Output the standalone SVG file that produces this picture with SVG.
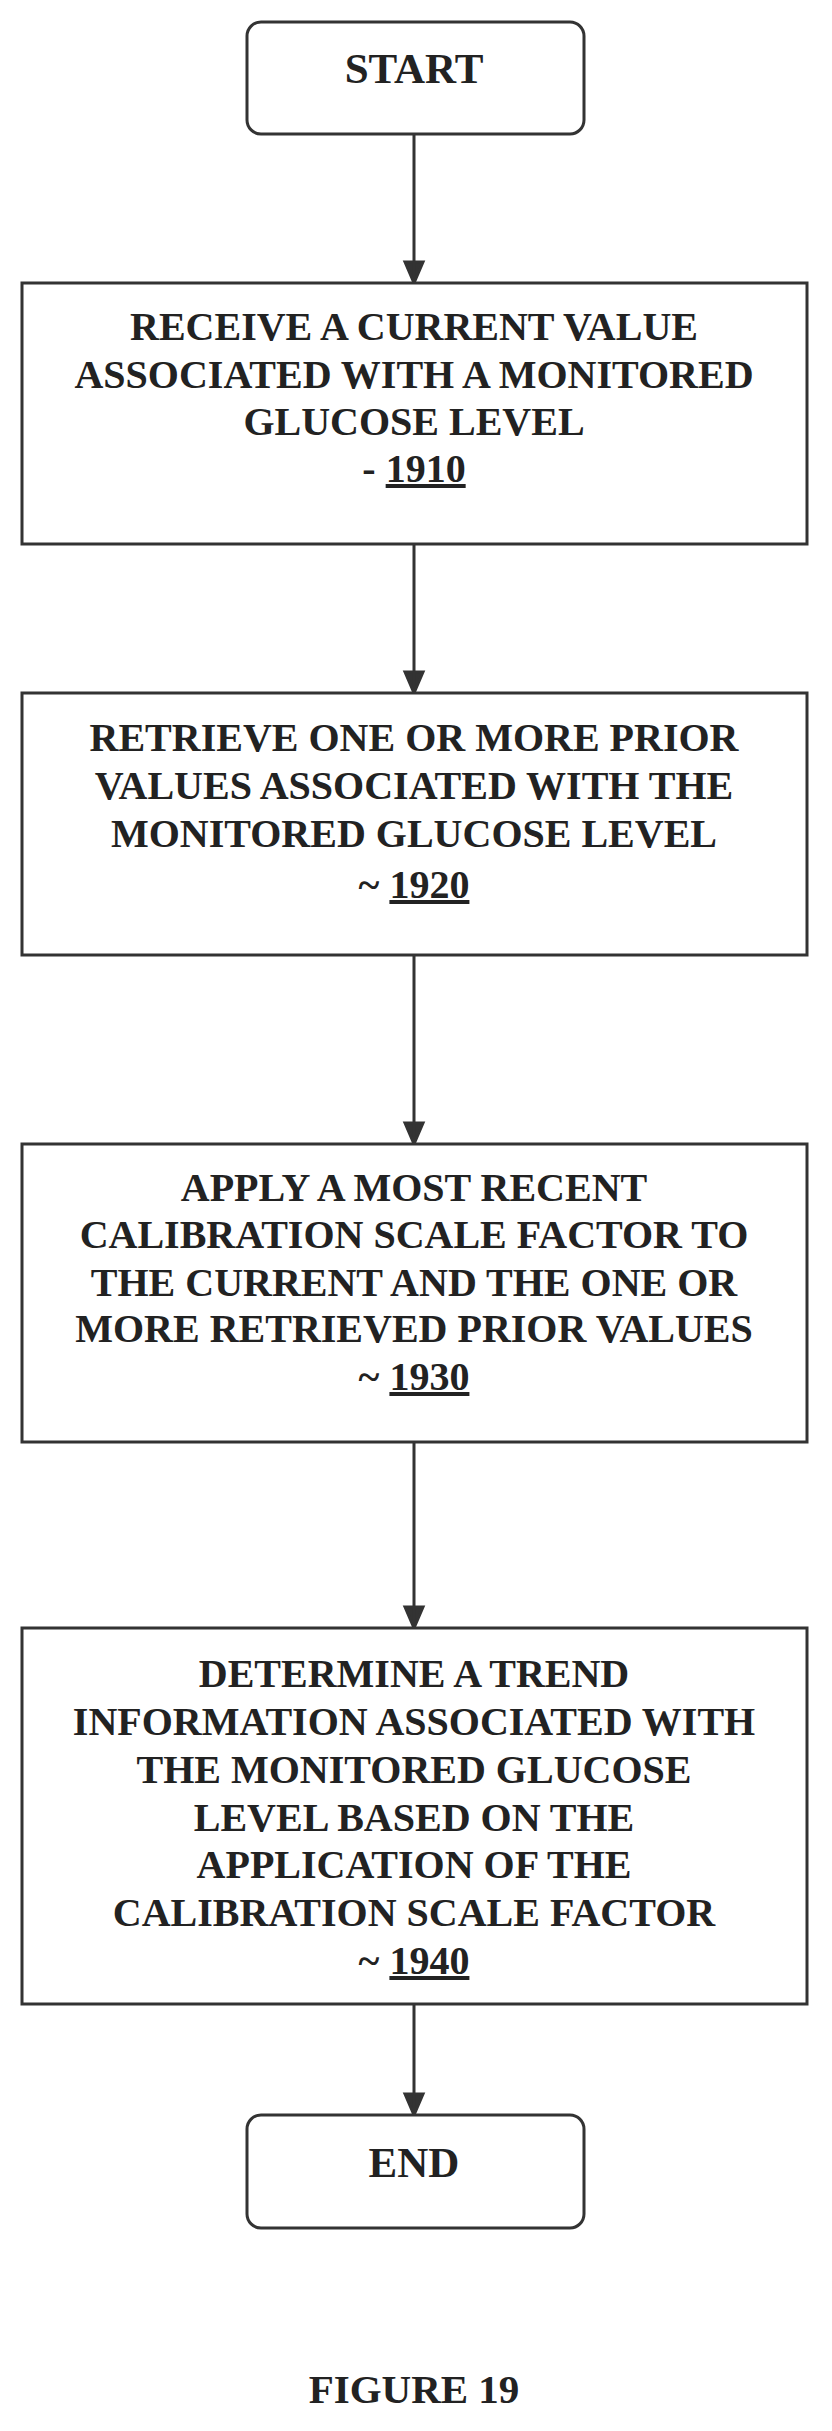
<svg xmlns="http://www.w3.org/2000/svg" width="832" height="2431" viewBox="0 0 832 2431">
<style>
.b{fill:#fff;stroke:#333;stroke-width:3}
.t{font-family:"Liberation Serif",serif;font-weight:bold;font-size:40px;fill:#222;text-anchor:middle}
.s{font-size:43px}
</style>
<rect width="832" height="2431" fill="#fff"/>
<g id="connectors" stroke="#333" stroke-width="3" fill="#333">
<path d="M414,134V283M405,262L414,283L423,262z M414,544V693M405,672L414,693L423,672z M414,955V1144M405,1123L414,1144L423,1123z M414,1442V1628M405,1607L414,1628L423,1607z M414,2004V2115M405,2094L414,2115L423,2094z"/>
</g>
<g id="start"><rect class="b" x="247" y="22" width="337" height="112" rx="14"/><text class="t s" x="414" y="83">START</text></g>
<g id="n1910"><rect class="b" x="22" y="283" width="785" height="261"/>
<text class="t" x="414" y="340">RECEIVE A CURRENT VALUE</text>
<text class="t" x="414" y="388">ASSOCIATED WITH A MONITORED</text>
<text class="t" x="414" y="435">GLUCOSE LEVEL</text>
<text class="t" x="414" y="482">- <tspan text-decoration="underline">1910</tspan></text></g>
<g id="n1920"><rect class="b" x="22" y="693" width="785" height="262"/>
<text class="t" x="414" y="751">RETRIEVE ONE OR MORE PRIOR</text>
<text class="t" x="414" y="799">VALUES ASSOCIATED WITH THE</text>
<text class="t" x="414" y="847">MONITORED GLUCOSE LEVEL</text>
<text class="t" x="414" y="898">~ <tspan text-decoration="underline">1920</tspan></text></g>
<g id="n1930"><rect class="b" x="22" y="1144" width="785" height="298"/>
<text class="t" x="414" y="1201">APPLY A MOST RECENT</text>
<text class="t" x="414" y="1248">CALIBRATION SCALE FACTOR TO</text>
<text class="t" x="414" y="1296">THE CURRENT AND THE ONE OR</text>
<text class="t" x="414" y="1342">MORE RETRIEVED PRIOR VALUES</text>
<text class="t" x="414" y="1390">~ <tspan text-decoration="underline">1930</tspan></text></g>
<g id="n1940"><rect class="b" x="22" y="1628" width="785" height="376"/>
<text class="t" x="414" y="1687">DETERMINE A TREND</text>
<text class="t" x="414" y="1735">INFORMATION ASSOCIATED WITH</text>
<text class="t" x="414" y="1783">THE MONITORED GLUCOSE</text>
<text class="t" x="414" y="1831">LEVEL BASED ON THE</text>
<text class="t" x="414" y="1878">APPLICATION OF THE</text>
<text class="t" x="414" y="1926">CALIBRATION SCALE FACTOR</text>
<text class="t" x="414" y="1974">~ <tspan text-decoration="underline">1940</tspan></text></g>
<g id="end"><rect class="b" x="247" y="2115" width="337" height="113" rx="14"/><text class="t s" x="414" y="2177">END</text></g>
<text class="t" x="414" y="2403" style="font-size:41px">FIGURE 19</text>
</svg>
